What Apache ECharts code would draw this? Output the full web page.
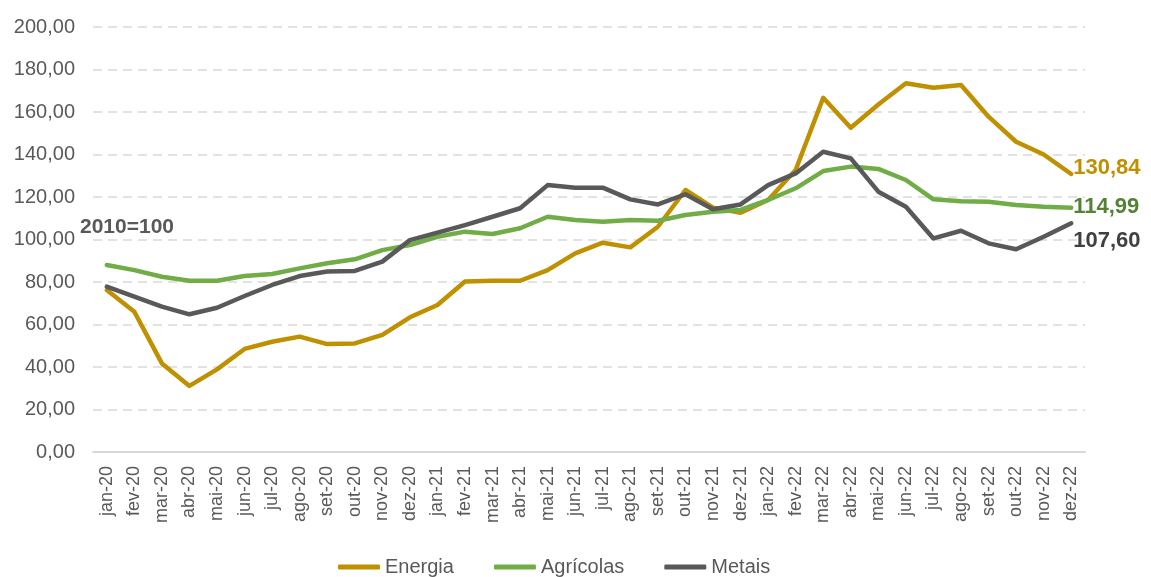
<!DOCTYPE html>
<html>
<head>
<meta charset="utf-8">
<script src="https://cdn.jsdelivr.net/npm/echarts@6/dist/echarts.min.js"></script>
<style>
  html, body { margin: 0; padding: 0; background: #fff; }
  #chart { width: 1151px; height: 577px; }
</style>
</head>
<body>
<div id="chart"></div>
<script>
// monthly index values, 2010=100
var months = ['jan-20','fev-20','mar-20','abr-20','mai-20','jun-20','jul-20','ago-20','set-20','out-20','nov-20','dez-20',
              'jan-21','fev-21','mar-21','abr-21','mai-21','jun-21','jul-21','ago-21','set-21','out-21','nov-21','dez-21',
              'jan-22','fev-22','mar-22','abr-22','mai-22','jun-22','jul-22','ago-22','set-22','out-22','nov-22','dez-22'];

var energia = [76.2, 66.0, 41.7, 31.1, 38.9, 48.5, 51.9, 54.3, 50.8, 51.1, 55.1, 63.4,
               69.2, 80.2, 80.6, 80.6, 85.6, 93.5, 98.5, 96.3, 106.0, 123.3, 115.0, 112.6,
               118.6, 132.7, 166.7, 152.6, 163.5, 173.5, 171.4, 172.7, 157.8, 146.0, 140.0, 130.84];

var agricolas = [88.0, 85.6, 82.5, 80.6, 80.6, 82.8, 83.8, 86.4, 88.8, 90.7, 95.0, 97.4,
                 101.3, 103.7, 102.6, 105.3, 110.7, 109.2, 108.4, 109.2, 108.8, 111.5, 113.1, 113.9,
                 118.6, 124.1, 132.2, 134.3, 133.2, 128.0, 118.9, 118.0, 117.8, 116.2, 115.4, 114.99];

var metais = [77.8, 73.1, 68.4, 64.8, 67.9, 73.4, 78.6, 82.8, 84.9, 85.2, 89.6, 99.7,
              103.2, 106.8, 110.7, 114.7, 125.6, 124.4, 124.4, 118.9, 116.5, 121.3, 114.2, 116.5,
              125.6, 131.1, 141.3, 138.2, 122.5, 115.4, 100.5, 104.1, 98.2, 95.4, 101.3, 107.6];

var FONT = '"Liberation Sans", Arial, sans-serif';

function fmt(v) {
  return Number(v).toFixed(2).replace('.', ',');
}

function lineSeries(name, data, color, labelColor, offset) {
  return {
    name: name,
    type: 'line',
    data: data,
    symbol: 'none',
    smooth: false,
    lineStyle: { width: 4.5, color: color, join: 'round', cap: 'round' },
    itemStyle: { color: color },
    emphasis: { disabled: true },
    endLabel: {
      show: true,
      distance: 2,
      offset: offset,
      formatter: function (p) { return fmt(p.value); },
      color: labelColor,
      fontFamily: FONT,
      fontWeight: 'bold',
      fontSize: 22
    }
  };
}

var myChart = echarts.init(document.getElementById('chart'));

var option = {
  animation: false,
  backgroundColor: '#fff',
  textStyle: { fontFamily: FONT },
  grid: { left: 93, right: 66, top: 27, bottom: 125, containLabel: false },
  legend: {
    left: 333,
    top: 552,
    itemWidth: 42,
    itemHeight: 5,
    itemGap: 40,
    icon: 'roundRect',
    textStyle: { color: '#595959', fontSize: 20, fontFamily: FONT },
    data: ['Energia', 'Agrícolas', 'Metais']
  },
  xAxis: {
    type: 'category',
    data: months,
    boundaryGap: true,
    axisLine: { lineStyle: { color: '#d9d9d9', width: 2 } },
    axisTick: { show: false },
    axisLabel: {
      rotate: 90,
      interval: 0,
      margin: 14,
      color: '#595959',
      fontSize: 18,
      fontFamily: FONT
    }
  },
  yAxis: {
    type: 'value',
    min: 0,
    max: 200,
    interval: 20,
    axisLine: { show: false },
    axisTick: { show: false },
    splitLine: { lineStyle: { color: '#d9d9d9', width: 1.5, type: [9, 6] } },
    axisLabel: {
      margin: 18,
      color: '#595959',
      fontSize: 20,
      fontFamily: FONT,
      formatter: fmt
    }
  },
  graphic: [{
    type: 'text',
    left: 80,
    top: 217,
    style: {
      text: '2010=100',
      fill: '#595959',
      font: 'bold 21px ' + FONT
    }
  }],
  series: [
    lineSeries('Energia', energia, '#BF9000', '#BF9000', [0, -6]),
    lineSeries('Agrícolas', agricolas, '#70AD47', '#548235', [0, -1]),
    lineSeries('Metais', metais, '#595959', '#404040', [0, 18])
  ]
};

myChart.setOption(option);
</script>
</body>
</html>
